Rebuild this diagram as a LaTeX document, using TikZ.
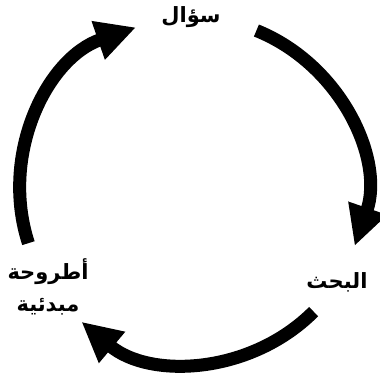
\documentclass[tikz,border=0pt]{standalone}
\usepackage{fontspec}
\newfontfamily\arabicfont[Script=Arabic]{DejaVu Sans}
\TeXXeTstate=1
\usetikzlibrary{arrows.meta}

\begin{document}
\begin{tikzpicture}[x=1pt, y=1pt,
  every node/.style={font=\arabicfont\bfseries\fontsize{21}{32}\selectfont, align=center, inner sep=0pt},
  cyclearrow/.style={line width=13pt, -{Triangle[length=40pt,width=38pt]}}]
  \useasboundingbox (0,0) rectangle (380,376);
  % centre of the cycle
  \coordinate (c) at (192,186);

  % stage labels
  \node (sual) at (191,359) {\beginR سؤال\endR};
  \node (bahth) at (337,94) {\beginR البحث\endR};
  \node (utruha) at (48,89) {\beginR أطروحة\endR\\\beginR مبدئية\endR};

  % start points of the arcs
  \coordinate (from-sual) at ([shift={(68:172)}]c);
  \coordinate (from-bahth) at ([shift={(-45:172)}]c);
  \coordinate (from-utruha) at ([shift={(198:172)}]c);

  % arcs: sual -> bahth -> utruha -> sual
  \draw[cyclearrow] (from-sual) arc[start angle=68, end angle=-19, radius=172];
  \draw[cyclearrow] (from-bahth) arc[start angle=-45, end angle=-130, radius=172];
  \draw[cyclearrow] (from-utruha) arc[start angle=198, end angle=109, radius=172];
\end{tikzpicture}
\end{document}
